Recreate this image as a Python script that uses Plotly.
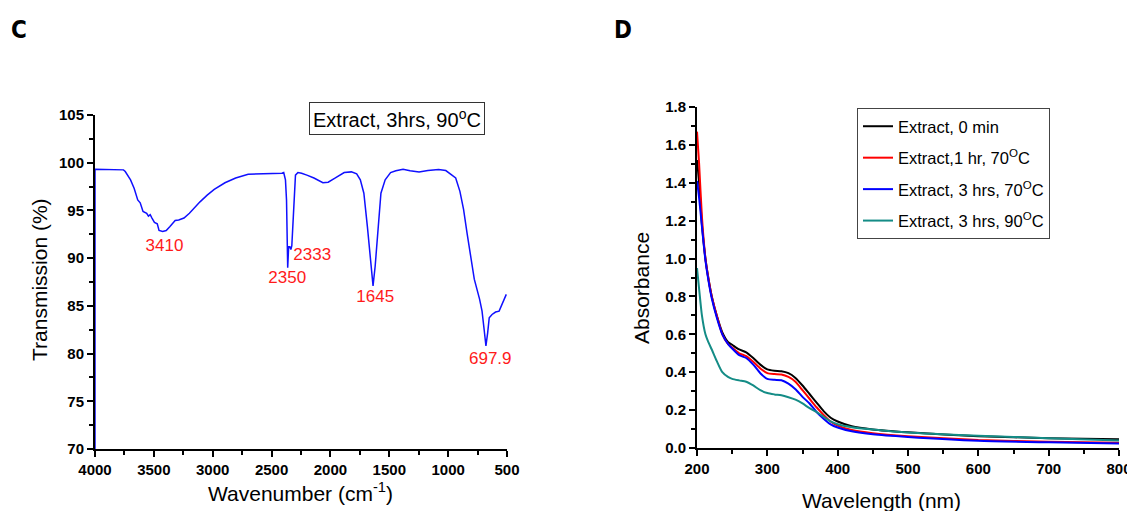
import plotly.graph_objects as go

# ─────────────────────────────────
# Datos: FTIR (panel C)
# ─────────────────────────────────
ir_wavenumber = [4000, 4000, 3758, 3743, 3698, 3667, 3637, 3616, 3592, 3561, 3546, 3531, 3516,
                 3495, 3471, 3456, 3425, 3395, 3365, 3319, 3289, 3244, 3198, 3153, 3108,
                 3047, 2987, 2896, 2805, 2699, 2563, 2412, 2397, 2382, 2373, 2363, 2355,
                 2345, 2336, 2328, 2315, 2297, 2276, 2245, 2200, 2140, 2064, 2019, 1958,
                 1883, 1822, 1777, 1746, 1716, 1686, 1656, 1638, 1620, 1595, 1571, 1535,
                 1489, 1444, 1383, 1323, 1247, 1172, 1081, 1020, 975, 936, 900, 869, 839,
                 809, 778, 733, 712, 694, 679, 664, 651, 627, 597, 567, 543, 528, 506]
ir_transmission = [60, 99.32, 99.25, 99.08, 98.2, 97.3, 96.1, 95.8, 94.9, 94.7, 94.4, 94.55, 94.2,
                   93.75, 93.6, 92.9, 92.8, 92.9, 93.3, 93.95, 94.0, 94.2, 94.7, 95.35, 95.9,
                   96.6, 97.2, 97.9, 98.4, 98.8, 98.83, 98.9, 98.97, 98.2, 96.1, 89.0, 91.2,
                   91.2, 90.9, 91.3, 94.4, 98.7, 98.97, 98.9, 98.7, 98.4, 97.9, 97.96, 98.4,
                   98.97, 99.04, 98.83, 98.2, 96.8, 93.3, 89.15, 87.1, 89.15, 93.3, 96.8, 98.2,
                   98.97, 99.15, 99.32, 99.15, 99.04, 99.18, 99.29, 99.18, 98.73, 98.4, 97.0, 95.1, 92.6,
                   90.2, 87.8, 85.7, 84.45, 82.5, 80.8, 82.2, 83.75, 84.1, 84.35, 84.45, 85.15, 85.7, 86.2]

peak_labels = ["3410", "2333", "2350", "1645", "697.9"]
peak_label_x = [3410, 2155, 2367, 1619, 642]
peak_label_y = [91.2, 90.2, 87.8, 85.9, 79.4]

# ─────────────────────────────────
# Datos: UV-Vis (panel D)
# ─────────────────────────────────
uv_wavelength = [200, 203, 207, 212, 216, 221, 228, 236, 244, 250, 260, 270, 280, 290, 300,
                 310, 320, 330, 340, 350, 360, 370, 380, 390, 400, 420, 450, 500, 600, 700, 800]
abs_0min = [1.52, 1.40, 1.18, 1.00, 0.90, 0.80, 0.70, 0.61, 0.56, 0.545, 0.52, 0.505, 0.475, 0.44, 0.415,
            0.408, 0.405, 0.395, 0.37, 0.33, 0.285, 0.24, 0.195, 0.16, 0.14, 0.115, 0.098, 0.083, 0.062, 0.052, 0.046]
abs_1h70 = [1.67, 1.50, 1.22, 1.00, 0.90, 0.80, 0.70, 0.60, 0.55, 0.53, 0.50, 0.485, 0.455, 0.42, 0.395,
            0.39, 0.388, 0.375, 0.35, 0.305, 0.26, 0.215, 0.175, 0.14, 0.118, 0.095, 0.078, 0.062, 0.042, 0.033, 0.028]
abs_3h70 = [1.41, 1.32, 1.17, 0.99, 0.89, 0.79, 0.69, 0.60, 0.55, 0.525, 0.49, 0.475, 0.44, 0.395, 0.365,
            0.36, 0.358, 0.34, 0.31, 0.27, 0.235, 0.19, 0.155, 0.125, 0.108, 0.088, 0.072, 0.058, 0.038, 0.03, 0.024]
abs_3h90 = [0.95, 0.84, 0.70, 0.60, 0.56, 0.52, 0.46, 0.40, 0.375, 0.365, 0.357, 0.35, 0.33, 0.305, 0.29,
            0.283, 0.278, 0.268, 0.255, 0.235, 0.21, 0.19, 0.165, 0.14, 0.125, 0.11, 0.098, 0.082, 0.065, 0.052, 0.04]

uv_series = [
    ("Extract, 0 min", abs_0min, "black"),
    ("Extract,1 hr, 70<sup>O</sup>C", abs_1h70, "red"),
    ("Extract, 3 hrs, 70<sup>O</sup>C", abs_3h70, "blue"),
    ("Extract, 3 hrs, 90<sup>O</sup>C", abs_3h90, "#148c86"),
]

# la página añade 8 px de margen al cuerpo
OFF = 8
W, H = 1135 - OFF, 511 - OFF
SANS = "Liberation Sans, Arial"
TICKFONT = dict(family=SANS, size=15, color="black", weight="bold")


def px_x(p):
    return (p - OFF) / W


def px_y(p):
    return 1 - (p - OFF) / H


fig = go.Figure()

# ─────────────────────────────────
# Panel C
# ─────────────────────────────────
fig.add_trace(go.Scatter(
    x=ir_wavenumber, y=ir_transmission, mode="lines",
    line=dict(color="#1010ff", width=1.5),
    xaxis="x", yaxis="y", showlegend=False,
))
fig.add_trace(go.Scatter(
    x=peak_label_x, y=peak_label_y, mode="text", text=peak_labels,
    textfont=dict(family=SANS, size=17, color="#ff1a1a"),
    xaxis="x", yaxis="y", showlegend=False, cliponaxis=False,
))

# ─────────────────────────────────
# Panel D
# ─────────────────────────────────
for i, (name, vals, col) in enumerate(uv_series):
    fig.add_trace(go.Scatter(
        x=uv_wavelength, y=vals, mode="lines", name=name, legendgroup=f"g{i}",
        line=dict(color=col, width=2, shape="spline", smoothing=0.6),
        xaxis="x2", yaxis="y2",
    ))

axis_common = dict(
    showline=True, linecolor="black", linewidth=2, mirror=False,
    ticks="outside", ticklen=6, tickwidth=2, tickcolor="black",
    showgrid=False, zeroline=False, tickfont=TICKFONT, automargin=False,
    ticklabeloverflow="allow",
)
minor_common = dict(ticks="outside", ticklen=4, tickwidth=1.5, tickcolor="black")

fig.update_layout(
    width=W, height=H,
    margin=dict(l=0, r=0, t=0, b=0),
    paper_bgcolor="white", plot_bgcolor="white",
    xaxis=dict(axis_common, domain=[px_x(95), px_x(507)], anchor="y",
               range=[4000, 500], tickvals=[4000, 3500, 3000, 2500, 2000, 1500, 1000, 500],
               minor=dict(minor_common, dtick=250)),
    yaxis=dict(axis_common, domain=[px_y(449), px_y(115)], anchor="x",
               range=[70, 105], dtick=5,
               minor=dict(minor_common, dtick=2.5)),
    xaxis2=dict(axis_common, domain=[px_x(697), px_x(1119)], anchor="y2",
                range=[200, 800], dtick=100,
                minor=dict(minor_common, dtick=50)),
    yaxis2=dict(axis_common, domain=[px_y(448), px_y(107)], anchor="x2",
                range=[0, 1.8], dtick=0.2, tickformat=".1f",
                minor=dict(minor_common, dtick=0.1)),
    legend=dict(
        x=px_x(857), y=px_y(108), xanchor="left", yanchor="top",
        bordercolor="#444", borderwidth=1, bgcolor="white",
        font=dict(family=SANS, size=16.5, color="black"),
        tracegroupgap=7,
    ),
    showlegend=True,
)

annotations = [
    dict(text="C", x=px_x(19), y=px_y(30), font=dict(family="DejaVu Sans Condensed, DejaVu Sans", size=24, weight="bold")),
    dict(text="D", x=px_x(623), y=px_y(30), font=dict(family="DejaVu Sans Condensed, DejaVu Sans", size=24, weight="bold")),
    dict(text="Transmission (%)", x=px_x(39), y=px_y(280), textangle=-90,
         font=dict(family=SANS, size=21)),
    dict(text="Wavenumber (cm<sup>-1</sup>)", x=px_x(300), y=px_y(492),
         font=dict(family=SANS, size=21)),
    dict(text="Absorbance", x=px_x(641), y=px_y(288), textangle=-90,
         font=dict(family=SANS, size=21)),
    dict(text="Wavelength (nm)", x=px_x(881), y=px_y(500),
         font=dict(family=SANS, size=21)),
    dict(text="Extract, 3hrs, 90<sup>o</sup>C", x=px_x(397), y=px_y(118),
         bordercolor="#333", borderwidth=1, bgcolor="white", borderpad=3,
         font=dict(family=SANS, size=20)),
]
for a in annotations:
    a.update(xref="paper", yref="paper", showarrow=False, xanchor="center", yanchor="middle")
    a["font"].setdefault("color", "black")
fig.update_layout(annotations=annotations)

fig.write_html("out.html")
